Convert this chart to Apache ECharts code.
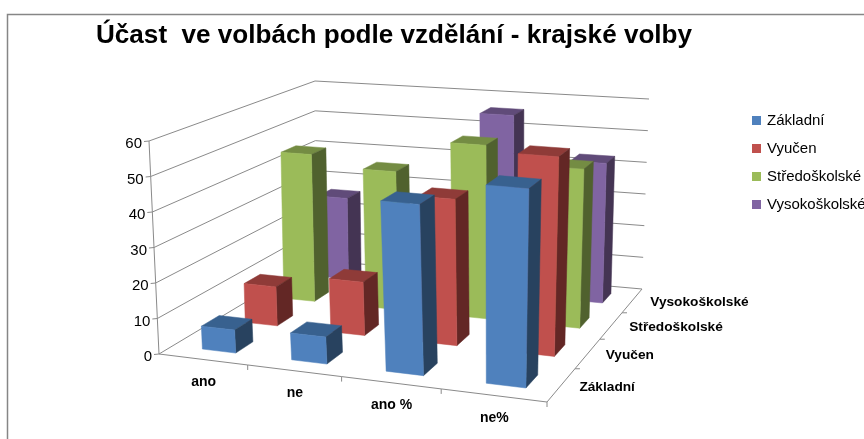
<!DOCTYPE html>
<html><head><meta charset="utf-8">
<style>html,body{margin:0;padding:0;background:#fff;overflow:hidden}#c{width:864px;height:439px}</style>
<script src="https://cdn.jsdelivr.net/npm/echarts@6/dist/echarts.min.js"></script>
</head><body><div id="c"></div>
<script>
const categories = ['ano', 'ne', 'ano %', 'ne%'];
const zakladni = [6.5, 7.5, 47, 54];
const vyucen = [11.5, 15.5, 42, 56.5];
const stredoskolske = [45.3, 42, 52, 47];
const vysokoskolske = [26, 18, 56, 43];
const depthNames = ['Základní', 'Vyučen', 'Středoškolské', 'Vysokoškolské'];
const yTicks = [0, 10, 20, 30, 40, 50, 60];
const faces = [
  ['#4f81bd', '#28425f', '#38618f'],
  ['#c0504d', '#632725', '#8f3b38'],
  ['#9bbb59', '#50612e', '#748c43'],
  ['#8064a2', '#443453', '#604b79']
];
const seriesValues = [zakladni, vyucen, stredoskolske, vysokoskolske];

// projection of the 3D box: floor and ceiling corners
function homography(p) { // unit square -> quad (A(0,0), B(1,0), C(1,1), D(0,1))
  const [A, B, C, D] = p;
  const dx1 = B[0] - C[0], dx2 = D[0] - C[0], sx = A[0] - B[0] + C[0] - D[0];
  const dy1 = B[1] - C[1], dy2 = D[1] - C[1], sy = A[1] - B[1] + C[1] - D[1];
  const det = dx1 * dy2 - dx2 * dy1;
  const g = (sx * dy2 - dx2 * sy) / det, h = (dx1 * sy - sx * dy1) / det;
  const a = B[0] - A[0] + g * B[0], b = D[0] - A[0] + h * D[0];
  const d = B[1] - A[1] + g * B[1], e = D[1] - A[1] + h * D[1];
  return (u, v) => {
    const w = g * u + h * v + 1;
    return [(a * u + b * v + A[0]) / w, (d * u + e * v + A[1]) / w];
  };
}
const floorH = homography([[159, 354], [547, 402], [642, 289], [316, 260]]);
const topH = homography([[149, 141], [553, 177], [649, 99], [315, 81]]);
const nCat = categories.length, nDepth = depthNames.length, yMax = 60;
function proj(u, d, h) {
  const f = floorH(u / nCat, d / nDepth), t = topH(u / nCat, d / nDepth), k = h / yMax;
  return [f[0] + (t[0] - f[0]) * k, f[1] + (t[1] - f[1]) * k];
}
function toCube(params, api, cat, val) {
  const cs = params.coordSys, p = api.coord([cat, val]);
  return { u: (p[0] - cs.x) / cs.width * nCat, h: (cs.y + cs.height - p[1]) / cs.height * yMax,
           band: api.size([1, 0])[0] / cs.width * nCat };
}
const poly = (pts, fill) => ({ type: 'polygon', shape: { points: pts }, style: { fill, stroke: fill, lineWidth: 0.5 } });
const line = (a, b) => ({ type: 'line', shape: { x1: a[0], y1: a[1], x2: b[0], y2: b[1] }, style: { stroke: '#8a8a8a', lineWidth: 1, fill: null } });
const label = (text, x, y, font, align) => ({ type: 'text', style: { text, x, y, font, fill: '#000', align: align, textAlign: align, verticalAlign: 'middle', textVerticalAlign: 'middle' } });
const BAR_U = 0.19, BAR_D = 0.2, SHIFT_U = 0.03;

function barSeries(j) {
  return {
    type: 'custom', name: depthNames[j], coordinateSystem: 'cartesian2d', clip: false, z: 10 - j,
    itemStyle: { color: faces[j][0] }, silent: true,
    data: seriesValues[j].map((v, i) => [i, v]),
    renderItem(params, api) {
      const c = toCube(params, api, api.value(0), api.value(1));
      const w = BAR_U * c.band, u0 = c.u + SHIFT_U - w, u1 = c.u + SHIFT_U + w, d0 = j + 0.5 - BAR_D, d1 = j + 0.5 + BAR_D, h = c.h;
      const f = faces[j];
      return { type: 'group', children: [
        poly([proj(u0, d0, h), proj(u1, d0, h), proj(u1, d1, h), proj(u0, d1, h)], f[2]),
        poly([proj(u1, d0, 0), proj(u1, d1, 0), proj(u1, d1, h), proj(u1, d0, h)], f[1]),
        poly([proj(u0, d0, 0), proj(u1, d0, 0), proj(u1, d0, h), proj(u0, d0, h)], f[0])
      ] };
    }
  };
}
const wallSeries = {
  type: 'custom', clip: false, z: 1, silent: true, coordinateSystem: 'cartesian2d',
  data: yTicks.map(t => [0, t]),
  renderItem(params, api) {
    const h = toCube(params, api, 0, api.value(1)).h;
    const a = proj(0, 0, h), b = proj(0, nDepth, h), c = proj(nCat, nDepth, h);
    return { type: 'group', children: [
      line(a, b), line(b, c), line([a[0] - 5, a[1] + 0.5], a),
      label(String(api.value(1)), a[0] - 7, a[1] + 3, '15px "Liberation Sans"', 'right')
    ] };
  }
};
const axisLineSeries = {
  type: 'custom', clip: false, z: 1, silent: true, coordinateSystem: 'cartesian2d',
  data: [[0, yTicks[0], yTicks[yTicks.length - 1]]],
  renderItem(params, api) {
    return line(proj(0, 0, api.value(1)), proj(0, 0, api.value(2)));
  }
};
const xLabelSeries = {
  type: 'custom', clip: false, z: 1, silent: true, coordinateSystem: 'cartesian2d',
  data: categories.map((c, i) => [i, 0]),
  renderItem(params, api) {
    const i = api.value(0), c = toCube(params, api, i, 0);
    const p = proj(c.u, 0, 0), e = proj(i + 1, 0, 0), s = proj(i, 0, 0);
    return { type: 'group', children: [
      line(s, e), line(e, [e[0], e[1] + 5]),
      label(categories[i], p[0] + 1, p[1] + 22.5, 'bold 14px "Liberation Sans"', 'center')
    ] };
  }
};
const depthLabelSeries = {
  type: 'custom', clip: false, z: 1, silent: true, coordinateSystem: 'cartesian2d',
  data: depthNames.map((n, j) => [j, 0]),
  renderItem(params, api) {
    const j = api.value(0);
    const s = proj(nCat, j, 0), e = proj(nCat, j + 1, 0), p = proj(nCat, j + 0.5, 0);
    const kids = [line(s, e), label(depthNames[j], p[0] + 18, p[1] + 2, 'bold 13.7px "Liberation Sans"', 'left')];
    if (j < nDepth - 1) kids.push(line(e, [e[0] + 5, e[1]]));
    return { type: 'group', children: kids };
  }
};

const chart = echarts.init(document.getElementById('c'), null, { renderer: 'canvas' });
chart.setOption({
  animation: false,
  backgroundColor: '#fff',
  title: { text: 'Účast  ve volbách podle vzdělání - krajské volby', left: 96, top: 23, padding: 0,
    textStyle: { fontFamily: 'Liberation Sans', fontWeight: 'bold', fontSize: 26.1, color: '#000' } },
  legend: {
    orient: 'vertical', left: 752, top: 112, padding: 0, itemWidth: 9, itemHeight: 9, itemGap: 11, icon: 'rect',
    selectedMode: false,
    data: depthNames,
    textStyle: { fontFamily: 'Liberation Sans', fontSize: 15, lineHeight: 17, color: '#000', padding: [0, 0, 0, 1] }
  },
  grid: { left: 100, top: 100, width: 400, height: 200, show: false },
  xAxis: { type: 'category', data: categories, show: false },
  yAxis: { type: 'value', min: 0, max: yMax, interval: 10, show: false },
  graphic: [{ type: 'rect', shape: { x: 7.5, y: 14.5, width: 900, height: 500 }, style: { fill: 'none', stroke: '#868686', lineWidth: 1.5 }, z: 0, silent: true }],
  series: [wallSeries, axisLineSeries, xLabelSeries, depthLabelSeries].concat([0, 1, 2, 3].map(barSeries))
});
</script></body></html>
